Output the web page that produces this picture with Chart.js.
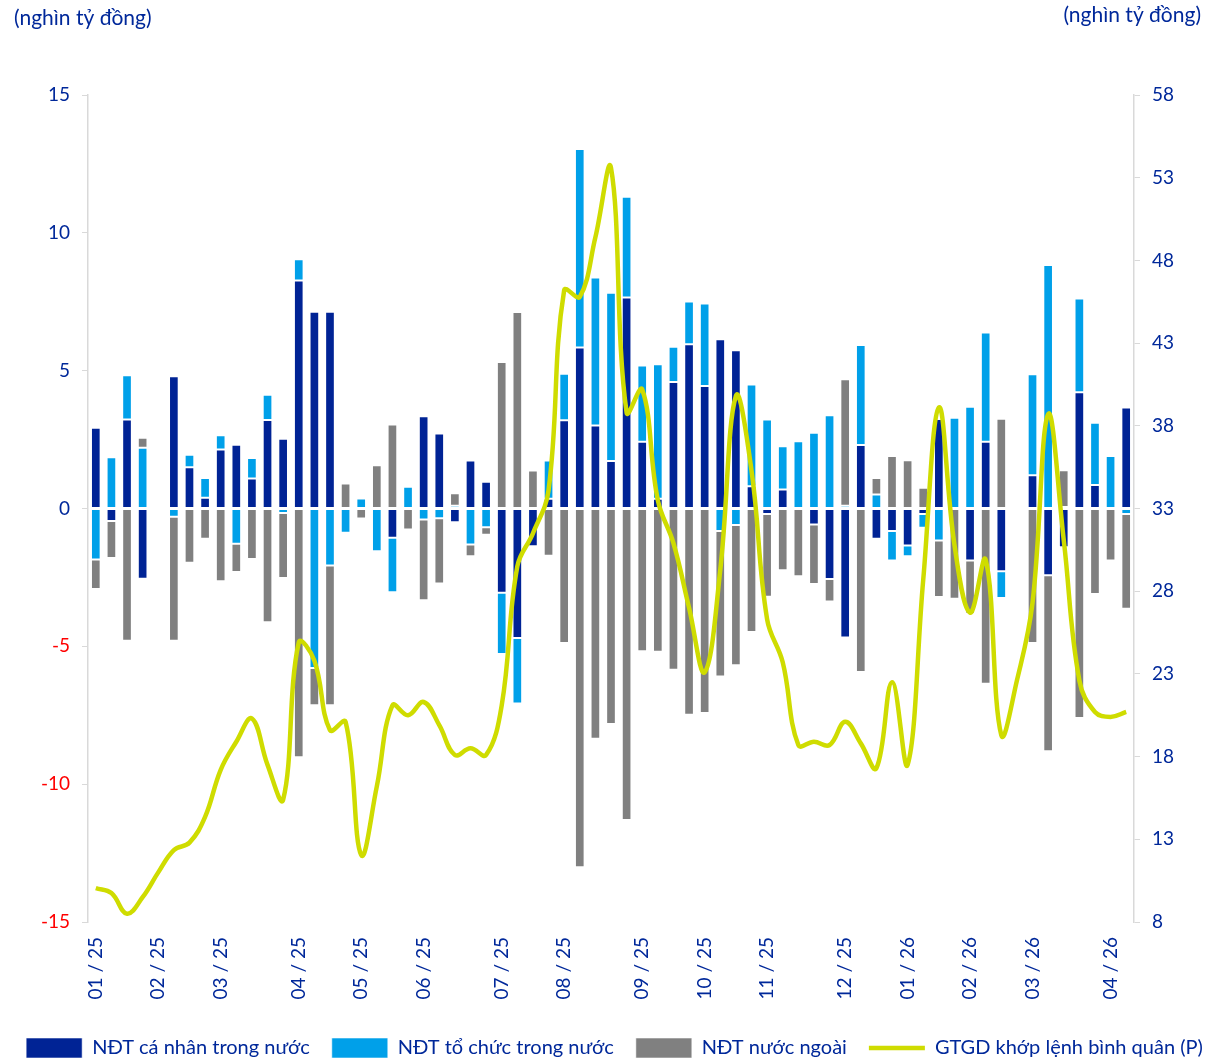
<!DOCTYPE html>
<html>
<head>
<meta charset="utf-8">
<script src="https://cdn.jsdelivr.net/npm/chart.js@4.4.1/dist/chart.umd.min.js"></script>
<style>
  html, body { margin: 0; padding: 0; background: #fff; }
</style>
</head>
<body>
<canvas id="flowChart" width="1229" height="1061"></canvas>
<script>
const navy = '#00289a';
const fontFamily = 'Lato, "Noto Sans", sans-serif';

// weekly net buy/sell (nghìn tỷ đồng), 67 weeks from 01/2025 to 04/2026
const individual = [2.93, -0.45, 3.23, -2.55, 0, 4.8, 1.5, 0.39, 2.14, 2.31, 1.09, 3.21, 2.53, 8.27, 7.14, 7.14,
  0, 0, 0, -1.06, 0, 3.35, 2.72, -0.5, 1.74, 0.97, -3.06, -4.7, -1.37, 0.35, 3.2, 5.84, 3.01, 1.72, 7.65, 2.42,
  0.35, 4.59, 5.96, 4.44, 6.14, 5.74, 0.81, -0.2, 0.69, 0, -0.58, -2.56, -4.68, 2.3, -1.1, -0.82, -1.34, -0.2,
  3.25, 0, -1.89, 2.42, -2.28, 0, 1.21, -2.42, -1.41, 4.22, 0.85, 0, 3.66];
const institution = [-1.85, 1.86, 1.6, 2.2, 0, -0.3, 0.45, 0.72, 0.52, -1.28, 0.74, 0.92, -0.16, 0.77, -5.79, -2.07,
  -0.88, 0.36, -1.55, -1.98, 0.79, -0.4, -0.35, 0.1, -1.31, -0.68, -2.22, -2.37, -0.05, 1.39, 1.69, 7.2, 5.37, 6.11,
  3.66, 2.77, 4.88, 1.28, 1.55, 3.0, -0.82, -0.6, 3.69, 3.23, 1.57, 2.44, 2.75, 3.38, 0.1, 3.63, 0.51, -1.07, -0.39,
  -0.5, -1.16, 3.29, 3.69, 3.96, -0.97, 0, 3.66, 8.83, 0.05, 3.4, 2.26, 1.9, -0.2];
const foreign = [-1.07, -1.35, -4.8, 0.37, 0, -4.5, -1.97, -1.1, -2.64, -1.02, -1.83, -4.13, -2.36, -9.02, -1.35, -5.07,
  0.91, -0.36, 1.57, 3.05, -0.76, -2.93, -2.37, 0.45, -0.42, -0.27, 5.31, 7.13, 1.38, -1.71, -4.88, -13.01, -8.35,
  -7.82, -11.3, -5.18, -5.2, -5.85, -7.48, -7.42, -5.27, -5.09, -4.48, -3.0, -2.24, -2.46, -2.16, -0.81, 4.59, -5.93,
  0.6, 1.9, 1.75, 0.75, -2.05, -3.27, -1.93, -6.36, 3.26, 0, -4.88, -6.39, 1.34, -7.6, -3.1, -1.89, -3.44];
// average matched trading value (right axis)
const matchedValue = [10.05, 9.75, 8.5, 9.5, 11.0, 12.35, 12.8, 14.35, 17.2, 18.9, 20.3, 17.5, 15.4, 24.9, 23.8, 19.6,
  20.1, 12.05, 16.2, 21.1, 20.5, 21.3, 19.9, 18.1, 18.5, 18.1, 21.1, 29.5, 31.5, 34.1, 46.2, 45.8, 49.4, 53.6, 38.8,
  40.2, 33.5, 30.9, 27.0, 23.1, 29.3, 39.8, 35.3, 26.3, 23.7, 18.7, 18.9, 18.7, 20.1, 18.8, 17.3, 22.5, 17.5, 28.7,
  39.1, 30.8, 26.7, 29.9, 19.3, 22.6, 27.3, 38.7, 31.1, 22.6, 20.7, 20.4, 20.7];

// month labels and the week index where each one sits
const monthLabels = ['01 / 25', '02 / 25', '03 / 25', '04 / 25', '05 / 25', '06 / 25', '07 / 25', '08 / 25',
  '09 / 25', '10 / 25', '11 / 25', '12 / 25', '01 / 26', '02 / 26', '03 / 26', '04 / 26'];
const monthWeek = [0, 4, 8, 13, 17, 21, 26, 30, 35, 39, 43, 48, 52, 56, 60, 65];

const categories = individual.map(() => '');
monthWeek.forEach((w, i) => { categories[w] = monthLabels[i]; });

const seriesNames = ['NĐT cá nhân trong nước', 'NĐT tổ chức trong nước', 'NĐT nước ngoài', 'GTGD khớp lệnh bình quân (P)'];
const unitLabel = '(nghìn tỷ đồng)';

const unitTitles = {
  id: 'unitTitles',
  afterDraw(chart) {
    const ctx = chart.ctx;
    ctx.save();
    ctx.font = '21px ' + fontFamily;
    ctx.fillStyle = navy;
    ctx.textBaseline = 'middle';
    ctx.textAlign = 'left';
    ctx.fillText(unitLabel, 14, 18);
    ctx.textAlign = 'right';
    ctx.fillText(unitLabel, 1201, 15);
    ctx.restore();
  }
};

const barBase = {
  type: 'bar',
  yAxisID: 'y',
  stack: 'flows',
  order: 1,
  borderColor: 'rgba(255,255,255,0.55)',
  borderWidth: 1,
  borderSkipped: false,
  barPercentage: 0.62,
  categoryPercentage: 1.0,
  pointStyle: 'rect'
};

new Chart(document.getElementById('flowChart').getContext('2d'), {
  data: {
    labels: categories,
    datasets: [
      { ...barBase, label: seriesNames[0], data: individual, backgroundColor: '#002395' },
      { ...barBase, label: seriesNames[1], data: institution, backgroundColor: '#00a0e9' },
      { ...barBase, label: seriesNames[2], data: foreign, backgroundColor: '#808080' },
      {
        type: 'line',
        label: seriesNames[3],
        data: matchedValue,
        yAxisID: 'y1',
        order: 0,
        borderColor: '#cfdc00',
        backgroundColor: '#cfdc00',
        borderWidth: 4.5,
        tension: 0.4,
        pointRadius: 0,
        pointStyle: 'line'
      }
    ]
  },
  options: {
    responsive: false,
    animation: false,
    layout: { padding: { top: 95, left: 0, right: 0, bottom: -7 } },
    scales: {
      x: {
        stacked: true,
        grid: { display: false },
        border: { display: false },
        ticks: {
          autoSkip: false,
          minRotation: 90,
          maxRotation: 90,
          color: navy,
          padding: 7,
          font: { family: fontFamily, size: 19 }
        },
        afterFit: s => { s.height = 94; }
      },
      y: {
        position: 'left',
        stacked: true,
        min: -15,
        max: 15,
        ticks: {
          stepSize: 5,
          padding: 12,
          color: c => (c.tick && c.tick.value < 0 ? '#ff0000' : navy),
          font: { family: fontFamily, size: 19 }
        },
        grid: { drawOnChartArea: false, drawTicks: true, tickLength: 6, color: '#d9d9d9' },
        border: { color: '#d9d9d9', width: 1.5 },
        afterFit: s => { s.width = 88; }
      },
      y1: {
        position: 'right',
        min: 8,
        max: 58,
        ticks: {
          stepSize: 5,
          padding: 12,
          color: navy,
          font: { family: fontFamily, size: 19 }
        },
        grid: { drawOnChartArea: false, drawTicks: true, tickLength: 6, color: '#d9d9d9' },
        border: { color: '#d9d9d9', width: 1.5 },
        afterFit: s => { s.width = 95; }
      }
    },
    plugins: {
      legend: {
        position: 'bottom',
        labels: {
          usePointStyle: true,
          pointStyleWidth: 56,
          boxHeight: 20,
          padding: 22,
          color: navy,
          font: { family: fontFamily, size: 20 },
          sort: (a, b) => a.datasetIndex - b.datasetIndex
        }
      },
      tooltip: { enabled: false }
    }
  },
  plugins: [unitTitles]
});
</script>
</body>
</html>
